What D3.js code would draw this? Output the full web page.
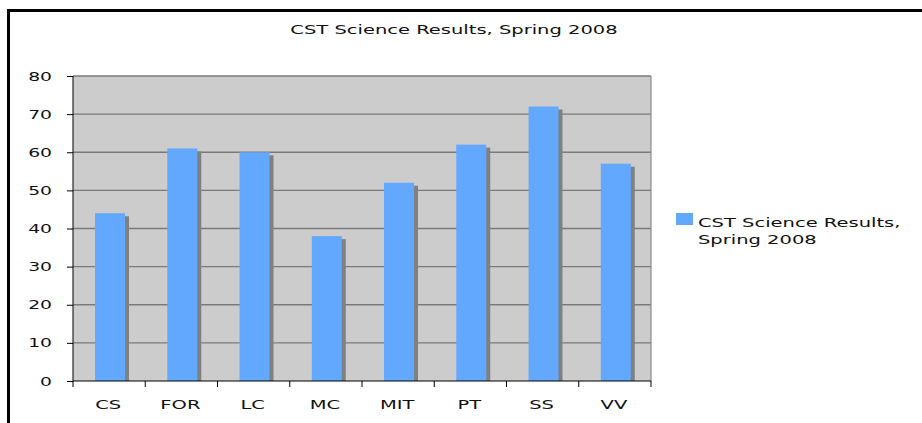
<!DOCTYPE html>
<meta charset="utf-8">
<style>
  body { margin: 0; background: #fff; }
  text { font-family: "DejaVu Sans", Verdana, sans-serif; fill: #111; }
</style>
<body>
<script src="https://d3js.org/d3.v7.min.js"></script>
<script>
  // data
  var categories = ["CS", "FOR", "LC", "MC", "MIT", "PT", "SS", "VV"];
  var values = [44, 61, 60, 38, 52, 62, 72, 57];
  var yTicks = [0, 10, 20, 30, 40, 50, 60, 70, 80];
  var seriesName = "CST Science Results, Spring 2008";
  var legendLines = ["CST Science Results,", "Spring 2008"];

  var W = 922, H = 423;
  var sx = 1.5; // glyphs in the picture are stretched wide

  var plot = { left: 73, top: 76, right: 651, bottom: 381 };

  var svg = d3.select("body").append("svg")
    .attr("width", W)
    .attr("height", H);

  // frame (top and left edges only are visible)
  svg.append("line")
    .attr("x1", 7).attr("x2", W).attr("y1", 10.5).attr("y2", 10.5)
    .style("stroke", "#000").style("stroke-width", 3);
  svg.append("line")
    .attr("x1", 8.5).attr("x2", 8.5).attr("y1", 9).attr("y2", H)
    .style("stroke", "#000").style("stroke-width", 3);

  function stretchedText(g, x, y, str, anchor, size) {
    return g.append("text")
      .attr("transform", "translate(" + x + "," + y + ") scale(" + sx + ",1)")
      .attr("text-anchor", anchor)
      .style("font-size", size + "px")
      .text(str);
  }

  // title
  stretchedText(svg, 454, 34, seriesName, "middle", 13);

  // scales
  var x = d3.scaleBand()
    .domain(categories)
    .range([plot.left, plot.right])
    .padding(0);
  var y = d3.scaleLinear()
    .domain([0, 80])
    .range([plot.bottom, plot.top]);

  // plot background
  svg.append("rect")
    .attr("x", plot.left).attr("y", plot.top)
    .attr("width", plot.right - plot.left)
    .attr("height", plot.bottom - plot.top)
    .style("fill", "#cccccc");

  // gridlines
  svg.append("g")
    .selectAll("line")
    .data(yTicks.filter(function(d) { return d > 0; }))
    .enter().append("line")
    .attr("x1", plot.left).attr("x2", plot.right)
    .attr("y1", function(d) { return y(d); })
    .attr("y2", function(d) { return y(d); })
    .style("stroke", "#7a7a7a")
    .style("stroke-width", 1.4);

  // right border of plot
  svg.append("line")
    .attr("x1", plot.right).attr("x2", plot.right)
    .attr("y1", plot.top).attr("y2", plot.bottom)
    .style("stroke", "#8a8a8a").style("stroke-width", 1.2);

  var bw = x.bandwidth();
  var barOff = bw * 0.305, barW = bw * 0.415;

  // bar shadows
  svg.append("g")
    .selectAll("rect")
    .data(values)
    .enter().append("rect")
    .attr("x", function(d, i) { return x(categories[i]) + barOff + 4; })
    .attr("y", function(d) { return y(d) + 3; })
    .attr("width", barW)
    .attr("height", function(d) { return plot.bottom - y(d) - 3; })
    .style("fill", "#808080");

  // bars
  svg.append("g")
    .selectAll("rect")
    .data(values)
    .enter().append("rect")
    .attr("x", function(d, i) { return x(categories[i]) + barOff; })
    .attr("y", function(d) { return y(d); })
    .attr("width", barW)
    .attr("height", function(d) { return plot.bottom - y(d); })
    .style("fill", "#62a8ff");

  // y axis
  var yAxis = svg.append("g")
    .attr("transform", "translate(" + plot.left + ",0)")
    .call(d3.axisLeft(y).tickValues(yTicks).tickSize(6).tickFormat(""));
  yAxis.select(".domain").remove();
  yAxis.selectAll(".tick line").style("stroke", "#000");
  svg.append("line")
    .attr("x1", plot.left).attr("x2", plot.left)
    .attr("y1", plot.top).attr("y2", plot.bottom)
    .style("stroke", "#000").style("stroke-width", 1);
  yTicks.forEach(function(t) {
    stretchedText(svg, 52, y(t) + 4.5, t, "end", 12.5);
  });

  // x axis
  var xAxis = svg.append("g")
    .attr("transform", "translate(0," + plot.bottom + ")")
    .call(d3.axisBottom(x).tickSize(0).tickFormat(""));
  xAxis.select(".domain").remove();
  svg.append("line")
    .attr("x1", plot.left).attr("x2", plot.right)
    .attr("y1", plot.bottom).attr("y2", plot.bottom)
    .style("stroke", "#000").style("stroke-width", 1);
  var bounds = categories.map(function(c) { return x(c); }).concat([plot.right]);
  svg.append("g")
    .selectAll("line")
    .data(bounds)
    .enter().append("line")
    .attr("x1", function(d) { return d; }).attr("x2", function(d) { return d; })
    .attr("y1", plot.bottom).attr("y2", plot.bottom + 6)
    .style("stroke", "#000");
  categories.forEach(function(c) {
    stretchedText(svg, x(c) + bw / 2 - 1, 409, c, "middle", 13);
  });

  // legend
  svg.append("rect")
    .attr("x", 676).attr("y", 213)
    .attr("width", 17).attr("height", 12)
    .style("fill", "#62a8ff");
  legendLines.forEach(function(l, i) {
    stretchedText(svg, 698, 226.5 + i * 17.5, l, "start", 13);
  });
</script>
</body>
